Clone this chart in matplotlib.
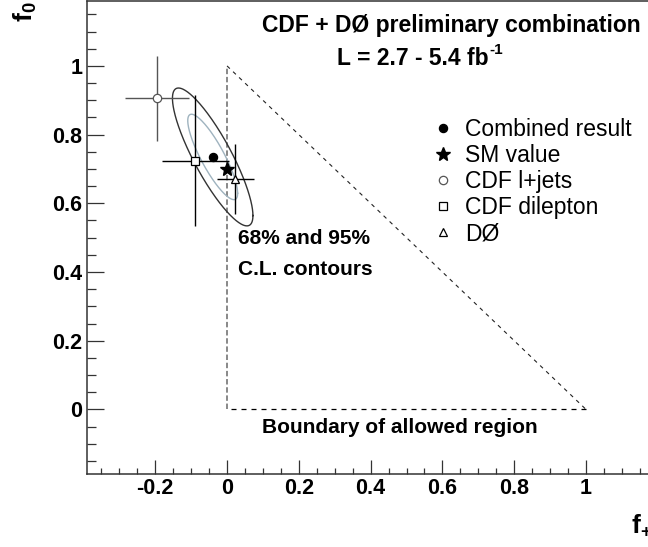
import numpy as np
import matplotlib
matplotlib.use('Agg')
import matplotlib.pyplot as plt
from matplotlib.ticker import MultipleLocator, FixedLocator

plt.rcParams['font.family'] = ['Liberation Sans', 'DejaVu Sans']
plt.rcParams['mathtext.fontset'] = 'custom'
plt.rcParams['mathtext.rm'] = 'Liberation Sans'
plt.rcParams['mathtext.bf'] = 'Liberation Sans:bold'
plt.rcParams['mathtext.it'] = 'Liberation Sans:italic'
plt.rcParams['mathtext.sf'] = 'Liberation Sans'

# ---------------- data ----------------
combined_f_plus = -0.040
combined_f_0 = 0.735
combined_sigma_plus = 0.0458
combined_sigma_0 = 0.082
combined_rho = -0.85
contour_chi2 = [2.30, 5.99]            # 68% and 95% C.L. (2 d.o.f.)
contour_colors = ['#9fb3bf', '#333333']

sm_f_plus = [0.0]
sm_f_0 = [0.70]

meas_names = ['CDF l+jets', 'CDF dilepton', 'DØ']
meas_f_plus = [-0.195, -0.088, 0.023]
meas_f_0 = [0.906, 0.724, 0.671]
meas_err_plus = [0.088, 0.093, 0.052]
meas_err_0 = [0.124, 0.190, 0.102]

boundary_f_plus = [0.0, 0.0, 1.0, 0.0]
boundary_f_0 = [0.0, 1.0, 0.0, 0.0]

xticks = [-0.2, 0.0, 0.2, 0.4, 0.6, 0.8, 1.0]
xticklabels = ['-0.2', '0', '0.2', '0.4', '0.6', '0.8', '1']
yticks = [0.0, 0.2, 0.4, 0.6, 0.8, 1.0]
yticklabels = ['0', '0.2', '0.4', '0.6', '0.8', '1']

# ---------------- figure ----------------
W, H = 648, 547
fig = plt.figure(figsize=(W / 100, H / 100), dpi=100)
left_px, right_px, bottom_px, top_px = 86.7, 657.8, 474.0, 1.0
ax = fig.add_axes([left_px / W, (H - bottom_px) / H,
                   (right_px - left_px) / W, (bottom_px - top_px) / H])
ax.set_xlim(-0.391, 1.2)
ax.set_ylim(-0.188, 1.189)

# boundary of allowed region
ax.plot(boundary_f_plus[0:2], boundary_f_0[0:2], color='#888888', lw=1.4,
        dashes=(2.8, 1.4))
ax.plot(boundary_f_plus[1:3], boundary_f_0[1:3], color='#222222', lw=0.8,
        dashes=(3.5, 4.0))
ax.plot(boundary_f_plus[2:4], boundary_f_0[2:4], color='black', lw=0.9,
        dashes=(4.0, 4.0))

# contours
t = np.linspace(0, 2 * np.pi, 400)
cov = np.array([[combined_sigma_plus ** 2,
                 combined_rho * combined_sigma_plus * combined_sigma_0],
                [combined_rho * combined_sigma_plus * combined_sigma_0,
                 combined_sigma_0 ** 2]])
L = np.linalg.cholesky(cov)
for k, c in zip(contour_chi2, contour_colors):
    pts = np.sqrt(k) * L @ np.vstack([np.cos(t), np.sin(t)])
    ax.plot(combined_f_plus + pts[0], combined_f_0 + pts[1], color=c, lw=1.0)

# measurements
bar_colors = ['#555555', 'black', 'black']
markers = ['o', 's', '^']
msizes = [6.0, 5.6, 5.8]
h_comb, = ax.plot([combined_f_plus], [combined_f_0], 'o', color='black',
                  ms=5.8, zorder=5, label='Combined result')
h_sm, = ax.plot(sm_f_plus, sm_f_0, '*', color='black', ms=10.5, zorder=6,
                label='SM value')
handles = [h_comb, h_sm]
for i in range(len(meas_names)):
    ax.errorbar([meas_f_plus[i]], [meas_f_0[i]], xerr=[meas_err_plus[i]],
                yerr=[meas_err_0[i]], fmt='none', ecolor=bar_colors[i],
                elinewidth=1.0, capsize=0, zorder=3)
    h, = ax.plot([meas_f_plus[i]], [meas_f_0[i]], markers[i], ms=msizes[i],
                 mfc='white', mec=bar_colors[i], mew=0.9, zorder=7,
                 label=meas_names[i])
    handles.append(h)

leg = ax.legend(handles=handles, loc='upper left',
                bbox_to_anchor=(0.5696, 0.848),
                bbox_transform=ax.transData, frameon=False,
                prop={'size': 16.5}, handlelength=1.0, handletextpad=0.46,
                labelspacing=0.135, borderpad=0, borderaxespad=0,
                numpoints=1)

# texts
bold = dict(fontweight='bold')
ax.text(0.0967, 1.100, 'CDF + DØ preliminary combination', fontsize=16.5,
        ha='left', va='baseline', **bold)
ax.text(0.307, 1.003, 'L = 2.7 - 5.4 fb', fontsize=16.5,
        ha='left', va='baseline', **bold)
ax.text(0.731, 1.035, '-1', fontsize=11, ha='left', va='baseline', **bold)
ax.text(0.031, 0.4815, '68% and 95%', fontsize=15, ha='left',
        va='baseline', **bold)
ax.text(0.031, 0.391, 'C.L. contours', fontsize=15, ha='left',
        va='baseline', **bold)
ax.text(0.0967, -0.070, 'Boundary of allowed region', fontsize=15,
        ha='left', va='baseline', **bold)

# axis labels (figure-level, partially cropped like the original)
fig.text(631 / W, 14 / H, r'$\mathbf{f}_{\mathbf{+}}$', fontsize=19,
         ha='left', va='baseline')
fig.text(33 / W, (H - 22) / H, r'$\mathbf{f}_{\mathbf{0}}$', fontsize=19,
         rotation=90, rotation_mode='anchor', ha='left', va='baseline')

# ticks
ax.xaxis.set_major_locator(FixedLocator(xticks))
ax.set_xticklabels(xticklabels)
ax.yaxis.set_major_locator(FixedLocator(yticks))
ax.set_yticklabels(yticklabels)
ax.xaxis.set_minor_locator(MultipleLocator(0.05))
ax.yaxis.set_minor_locator(MultipleLocator(0.05))
ax.tick_params(axis='x', which='major', direction='in', length=10,
               width=0.9, color='#333333', pad=3)
ax.tick_params(axis='x', which='minor', direction='in', length=4.3,
               width=0.9, color='#333333')
ax.tick_params(axis='y', which='major', direction='in', length=12,
               width=0.9, color='#333333', pad=3)
ax.tick_params(axis='y', which='minor', direction='in', length=6.3,
               width=0.9, color='#333333')
for lab in ax.get_xticklabels() + ax.get_yticklabels():
    lab.set_fontweight('bold')
    lab.set_fontsize(15.5)
for s in ax.spines.values():
    s.set_color('#333333')
    s.set_linewidth(1.1)

fig.savefig('out.png', dpi=100)
